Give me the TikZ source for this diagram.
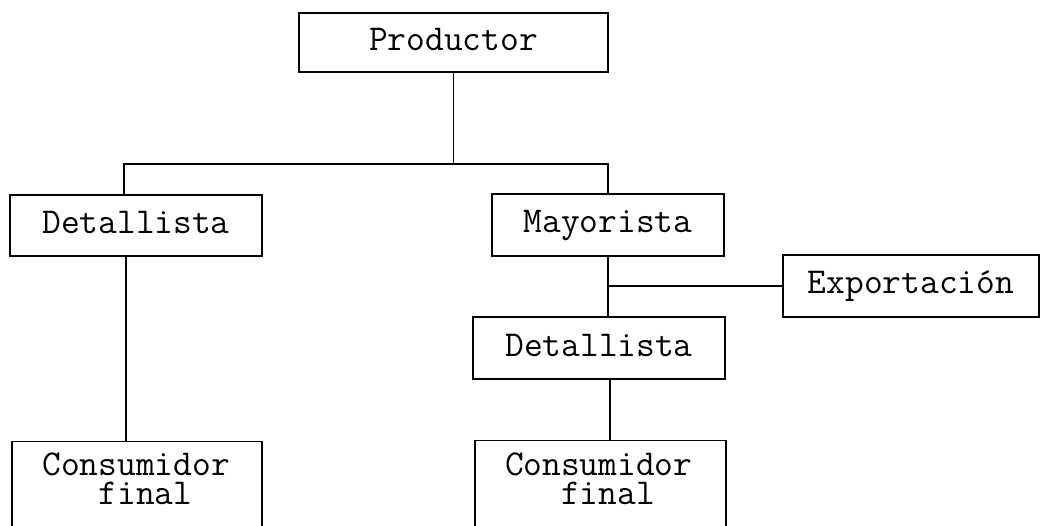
\documentclass[tikz,border=0pt]{standalone}
\usepackage{fontspec}
\begin{document}
\begin{tikzpicture}[x=1pt,y=-1pt,
  line width=1.3pt,
  every node/.style={font=\ttfamily\fontsize{36.4pt}{29pt}\selectfont},
  box/.style={draw, line width=1.3pt, inner sep=0pt, text height=22pt, text depth=6pt},
  conbox/.style={draw, line width=1.3pt, inner sep=0pt, anchor=north},
  link/.style={draw, line width=1.3pt}]
\useasboundingbox (0,0) rectangle (1041,526);
\node[box, minimum width=309pt, minimum height=59pt] (prod) at (453.5,42.5) {Productor};
\node[box, minimum width=252pt, minimum height=61pt] (det1) at (136,225.5) {Detallista};
\node[box, minimum width=232pt, minimum height=62pt] (may) at (608,225) {Mayorista};
\node[box, minimum width=256pt, minimum height=62pt] (exp) at (911,286) {Exportación};
\node[box, minimum width=252pt, minimum height=62pt] (det2) at (599,348) {Detallista};
\node[conbox] (con1) at (137,441) {\parbox[c][110pt][t]{250pt}{\hspace*{30.5pt}\rule{0pt}{34pt}Consumidor\\\hspace*{30.5pt}\hphantom{Con}final}};
\node[conbox] (con2) at (600.5,440) {\parbox[c][110pt][t]{251pt}{\hspace*{30pt}\rule{0pt}{35pt}Consumidor\\\hspace*{30pt}\hphantom{Con}final}};
\coordinate (j) at (prod.south |- 0,164);
\path[link] (prod.south) -- (j);
\path[link] (j) -| ([xshift=-12pt]det1.north);
\path[link] (j) -| (may.north);
\path[link] ([xshift=-10pt]det1.south) -- ([xshift=-10pt]det1.south |- con1.north);
\path[link] (may.south) -- (may.south |- det2.north);
\coordinate (k) at (may.south |- exp.west);
\path[link] (k) -- (exp.west);
\path[link] ([xshift=11pt]det2.south) -- ([xshift=11pt]det2.south |- con2.north);
\end{tikzpicture}
\end{document}
